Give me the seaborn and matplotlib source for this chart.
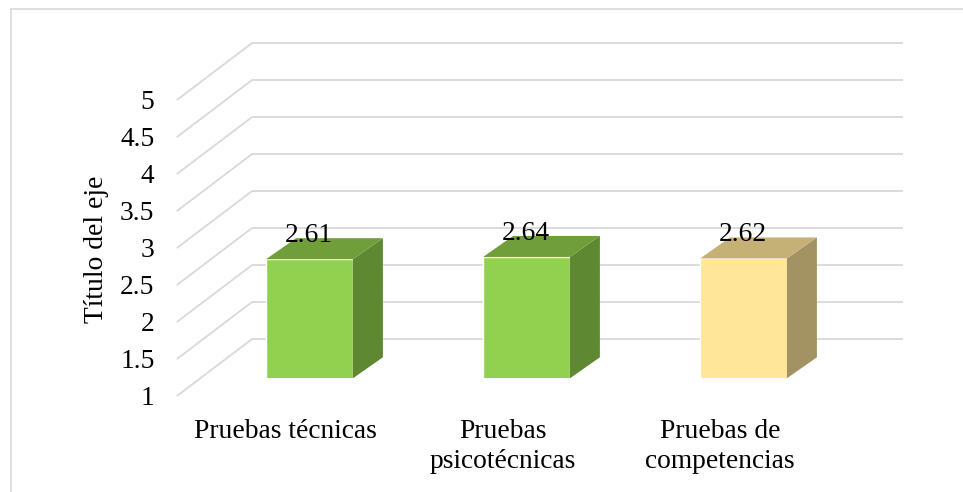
import matplotlib
matplotlib.use("Agg")
import matplotlib.pyplot as plt
from matplotlib.transforms import ScaledTranslation, IdentityTransform
from matplotlib.patches import Polygon
from matplotlib.lines import Line2D
import seaborn as sns
import pandas as pd

categories = ["Pruebas técnicas", "Pruebas\npsicotécnicas", "Pruebas de\ncompetencias"]
values = [2.61, 2.64, 2.62]
value_labels = ["2.61", "2.64", "2.62"]
y_ticks = [1, 1.5, 2, 2.5, 3, 3.5, 4, 4.5, 5]
y_tick_labels = ["1", "1.5", "2", "2.5", "3", "3.5", "4", "4.5", "5"]
y_title = "Título del eje"

front_colors = ["#92D050", "#92D050", "#FFE699"]
side_colors = ["#5E8932", "#5E8932", "#A39262"]
top_colors = ["#6F9E3B", "#6F9E3B", "#C5B075"]
grid_color = "#D9D9D9"

sns.set_style("white")
plt.rcParams["font.family"] = ["Liberation Serif", "DejaVu Serif"]
plt.rcParams["text.color"] = "black"
plt.rcParams["xtick.color"] = "black"
plt.rcParams["ytick.color"] = "black"
plt.rcParams["xtick.labelcolor"] = "black"
plt.rcParams["ytick.labelcolor"] = "black"
FS = 19.8

W, H = 963, 492
fig = plt.figure(figsize=(W / 100, H / 100), dpi=100)
fig.patch.set_facecolor("white")
ax = fig.add_axes([201 / W, (H - 378.3) / H, 651 / W, 296 / H])
ax.set_facecolor("none")

df = pd.DataFrame({"cat": categories, "val": values})
sns.barplot(data=df, x="cat", y="val", hue="cat", palette=front_colors,
            width=0.40, legend=False, ax=ax, saturation=1, zorder=3)
ax.set_xlim(-0.5, 2.5)
ax.set_ylim(1, 5)
for s in ax.spines.values():
    s.set_visible(False)
ax.set_xlabel("")
ax.set_ylabel("")

def px(dx, dy):
    return ScaledTranslation(dx / 100, dy / 100, fig.dpi_scale_trans)

# depth geometry (pixels)
front_off = (-23.7, -17.4)
back_off = (50.7, 39.0)
bar_depth = (30.0, 21.0)

# back wall gridlines
ax.hlines(y_ticks, -0.5, 2.5, colors=grid_color, linewidth=1.3,
          transform=ax.transData + px(*back_off), clip_on=False, zorder=1)
# side wall diagonals
for v in y_ticks:
    x0, y0 = ax.transData.transform((-0.5, v))
    ax.add_line(Line2D([x0 + front_off[0], x0 + back_off[0]],
                       [y0 + front_off[1], y0 + back_off[1]],
                       transform=IdentityTransform(), color=grid_color,
                       linewidth=1.3, clip_on=False, zorder=1))

# 3D faces of bars
ymin = ax.get_ylim()[0]
for i, p in enumerate(ax.patches):
    bx0 = p.get_x()
    bx1 = bx0 + p.get_width()
    top = p.get_y() + p.get_height()
    (ax0, ay0) = ax.transData.transform((bx0, ymin))
    (ax1, ay1) = ax.transData.transform((bx1, top))
    dx, dy = bar_depth
    side = Polygon([(ax1, ay0), (ax1, ay1), (ax1 + dx, ay1 + dy), (ax1 + dx, ay0 + dy)],
                   closed=True, transform=IdentityTransform(),
                   facecolor=side_colors[i], edgecolor="none", zorder=3)
    topf = Polygon([(ax0, ay1), (ax1, ay1), (ax1 + dx, ay1 + dy), (ax0 + dx, ay1 + dy)],
                   closed=True, transform=IdentityTransform(),
                   facecolor=top_colors[i], edgecolor="none", zorder=3)
    ax.add_patch(side)
    ax.add_patch(topf)
    ax.text(bx0 + p.get_width() / 2, top, value_labels[i], ha="center", va="baseline",
            fontsize=FS, color="black", zorder=5,
            transform=ax.transData + px(-1, 17))

# ticks
ax.set_yticks(y_ticks)
ax.set_yticklabels(y_tick_labels)
ax.tick_params(axis="y", length=0, pad=33.5, labelsize=FS, labelcolor="black")
for lbl in ax.get_yticklabels():
    lbl.set_transform(lbl.get_transform() + px(0, front_off[1]))

ax.set_xticks(range(len(categories)))
ax.set_xticklabels(categories)
ax.tick_params(axis="x", length=0, pad=29.5, labelsize=FS, labelcolor="black")
for lbl in ax.get_xticklabels():
    lbl.set_transform(lbl.get_transform() + px(front_off[0], 0))
    lbl.set_linespacing(1.27)

fig.text(96 / W, 1 - 249 / H, y_title, rotation=90, ha="center", va="center",
         fontsize=FS, color="black")

# chart border
fig.add_artist(Line2D([10.5 / W, 10.5 / W], [-0.1, 1 - 8.7 / H],
                      transform=fig.transFigure, color=grid_color, linewidth=1.2))
fig.add_artist(Line2D([10.5 / W, 1.1], [1 - 8.7 / H, 1 - 8.7 / H],
                      transform=fig.transFigure, color=grid_color, linewidth=1.2))

fig.savefig("out.png", dpi=100)
